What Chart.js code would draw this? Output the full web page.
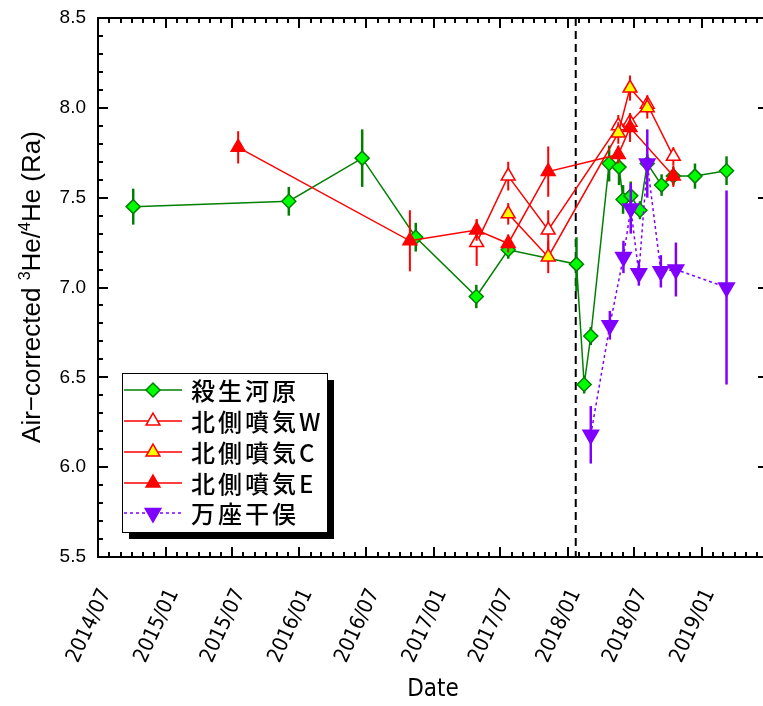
<!DOCTYPE html>
<html><head><meta charset="utf-8">
<script src="https://cdn.jsdelivr.net/npm/chart.js@4.4.1/dist/chart.umd.min.js"></script>
<style>html,body{margin:0;padding:0;background:#fff;overflow:hidden;}#wrap{width:763px;height:706px;overflow:hidden;}</style>
</head><body><div id="wrap"><canvas id="c" width="768" height="706"></canvas></div>
<script>
// ---- data ----
const xTickLabels = ['2014/07','2015/01','2015/07','2016/01','2016/07','2017/01','2017/07','2018/01','2018/07','2019/01'];
const xRange = ['2014-07-01','2019-07-01'];
const eruptionDate = '2018-01-23';
const seriesNames = ['殺生河原','北側噴気W','北側噴気C','北側噴気E','万座干俣'];

const sesshoDates = ['2014-10-05','2015-12-03','2016-06-20','2016-11-13','2017-04-27','2017-07-23','2018-01-25','2018-02-15','2018-03-05','2018-04-24','2018-05-21','2018-06-01','2018-06-22','2018-07-17','2018-08-06','2018-09-14','2018-10-16','2018-12-14','2019-03-10'];
const sesshoValues = [7.45,7.48,7.72,7.28,6.95,7.21,7.13,6.46,6.73,7.69,7.67,7.49,7.51,7.43,7.69,7.57,7.62,7.62,7.65];
const sesshoErrors = [0.10,0.08,0.16,0.08,0.065,0.05,0.15,0.05,0.05,0.10,0.10,0.08,0.08,0.05,0.05,0.06,0.05,0.07,0.08];

const wDates = ['2017-04-28','2017-07-23','2017-11-09','2018-05-19','2018-06-20','2018-08-06','2018-10-16'];
const wValues = [7.25,7.62,7.32,7.90,7.92,8.02,7.73];
const wErrors = [0.13,0.08,0.11,0.06,0.05,0.05,0.05];

const cDates = ['2017-07-23','2017-11-09','2018-05-19','2018-06-20','2018-08-06'];
const cValues = [7.41,7.17,7.86,8.11,8.00];
const cErrors = [0.06,0.09,0.06,0.07,0.06];

const eDates = ['2015-07-18','2016-10-28','2017-04-28','2017-07-23','2017-11-09','2018-05-19','2018-06-20','2018-10-16'];
const eValues = [7.78,7.26,7.32,7.245,7.645,7.74,7.89,7.62];
const eErrors = [0.09,0.17,0.06,0.05,0.14,0.05,0.08,0.06];

const manzaDates = ['2018-03-05','2018-04-26','2018-06-02','2018-06-22','2018-07-14','2018-08-06','2018-09-12','2018-10-23','2019-03-10'];
const manzaValues = [6.18,6.79,7.17,7.44,7.08,7.69,7.09,7.10,7.00];
const manzaErrors = [0.16,0.08,0.09,0.14,0.07,0.19,0.09,0.15,0.54];

// ---- helpers ----
const DAY = 86400000;
function dayNum(s){ const p = s.split('-').map(Number); return Date.UTC(p[0], p[1]-1, p[2]||1)/DAY; }
function pts(dates, vals){ return dates.map((d,i)=>({x:dayNum(d), y:vals[i]})); }
const tickValueMap = {};
xTickLabels.forEach(l => { tickValueMap[dayNum(l.replace('/','-')+'-01')] = l; });

const errorSets = [sesshoErrors, wErrors, cErrors, eErrors, manzaErrors];
const errColors = ['#008000','#ff0000','#ff0000','#ff0000','#8000ff'];
const errWidths = [2.5,2,2,2,2.5];

const styles = [
  {pointStyle:'rectRot', radius:7, bg:'#00ff00', bc:'#008000', line:'#008000', dash:[], rot:0},
  {pointStyle:'triangle', radius:8, bg:'#ffffff', bc:'#ff0000', line:'#ff0000', dash:[], rot:0},
  {pointStyle:'triangle', radius:8, bg:'#ffff00', bc:'#ff0000', line:'#ff0000', dash:[], rot:0},
  {pointStyle:'triangle', radius:8, bg:'#ff0000', bc:'#ff0000', line:'#ff0000', dash:[], rot:0},
  {pointStyle:'triangle', radius:9, bg:'#8000ff', bc:'#8000ff', line:'#8000ff', dash:[3,3], rot:180}
];
const seriesData = [pts(sesshoDates,sesshoValues), pts(wDates,wValues), pts(cDates,cValues), pts(eDates,eValues), pts(manzaDates,manzaValues)];
const drawOrder = [4,3,2,1,0];

const datasets = seriesData.map((d,i)=>({
  label: seriesNames[i], data: d, showLine: true,
  borderColor: styles[i].line, borderWidth: 1.5, borderDash: styles[i].dash,
  pointStyle: styles[i].pointStyle, pointRadius: styles[i].radius, pointRotation: styles[i].rot,
  pointBackgroundColor: styles[i].bg, pointBorderColor: styles[i].bc, pointBorderWidth: 1.5,
  pointHoverRadius: styles[i].radius, order: drawOrder[i], clip: false
}));

const TICK_FONT = "'Liberation Sans', Arial, sans-serif";
const NARROW_FONT = "'Liberation Sans Narrow', 'DejaVu Sans Condensed', 'Liberation Sans', sans-serif";

const customPlugin = {
  id: 'custom',
  beforeDatasetsDraw(chart){
    const ctx = chart.ctx, x = chart.scales.x, a = chart.chartArea;
    const px = x.getPixelForValue(dayNum(eruptionDate));
    ctx.save(); ctx.strokeStyle = '#000'; ctx.lineWidth = 2; ctx.setLineDash([8,5]);
    ctx.beginPath(); ctx.moveTo(px, a.top); ctx.lineTo(px, a.bottom); ctx.stroke(); ctx.restore();
  },
  beforeDatasetDraw(chart, args){
    const i = args.index, ctx = chart.ctx, xs = chart.scales.x, ys = chart.scales.y;
    const errs = errorSets[i]; const d = seriesData[i];
    ctx.save(); ctx.strokeStyle = errColors[i]; ctx.lineWidth = errWidths[i]; ctx.setLineDash([]);
    d.forEach((p,k)=>{
      const px = xs.getPixelForValue(p.x);
      ctx.beginPath(); ctx.moveTo(px, ys.getPixelForValue(p.y+errs[k])); ctx.lineTo(px, ys.getPixelForValue(p.y-errs[k])); ctx.stroke();
    });
    ctx.restore();
  },
  afterDraw(chart){
    const ctx = chart.ctx, a = chart.chartArea, xs = chart.scales.x, ys = chart.scales.y;
    ctx.save();
    ctx.strokeStyle = '#000'; ctx.lineWidth = 2; ctx.setLineDash([]);
    ctx.beginPath(); ctx.moveTo(a.left, a.top); ctx.lineTo(a.right, a.top); ctx.lineTo(a.right, a.bottom); ctx.stroke();
    for (let k = 55; k <= 85; k++){
      const py = Math.round(ys.getPixelForValue(k/10));
      const L = (k%5===0) ? 10 : 5;
      ctx.beginPath(); ctx.moveTo(a.left, py); ctx.lineTo(a.left+L, py); ctx.moveTo(a.right, py); ctx.lineTo(a.right-L, py); ctx.stroke();
    }
    for (let y = 2014; y <= 2019; y++){
      for (let m = 1; m <= 12; m++){
        if ((y===2014 && m<7) || (y===2019 && m>7)) continue;
        const px = Math.round(xs.getPixelForValue(Date.UTC(y,m-1,1)/DAY));
        const L = (m===1||m===7) ? 10 : 5;
        ctx.beginPath(); ctx.moveTo(px, a.bottom); ctx.lineTo(px, a.bottom-L); ctx.moveTo(px, a.top); ctx.lineTo(px, a.top+L); ctx.stroke();
      }
    }
    // y title with superscripts
    ctx.save();
    ctx.translate(31, 287); ctx.rotate(-Math.PI/2);
    const parts = [['Air\u2212corrected ',0],['3',1],['He/',0],['4',1],['He (Ra)',0]];
    const big = "26px " + TICK_FONT, small = "16px " + TICK_FONT;
    let tot = 0;
    parts.forEach(p=>{ ctx.font = p[1]?small:big; tot += ctx.measureText(p[0]).width; });
    let cx = -tot/2; ctx.fillStyle = '#000'; ctx.textBaseline = 'alphabetic';
    parts.forEach(p=>{ ctx.font = p[1]?small:big; ctx.fillText(p[0], cx, p[1]? -1 : 9); cx += ctx.measureText(p[0]).width; });
    ctx.restore();
    // legend
    const bx = 122, by = 373, bw = 205, bh = 159;
    ctx.fillStyle = '#000'; ctx.fillRect(bx+7, by+7, bw, bh);
    ctx.fillStyle = '#fff'; ctx.fillRect(bx, by, bw, bh);
    ctx.lineWidth = 1; ctx.strokeStyle = '#000'; ctx.strokeRect(bx+0.5, by+0.5, bw, bh);
    const rows = [390, 421, 452, 483, 513];
    seriesNames.forEach((name, i)=>{
      const ry = rows[i], st = styles[i];
      ctx.save();
      ctx.strokeStyle = st.line; ctx.lineWidth = 1.5; ctx.setLineDash(st.dash);
      ctx.beginPath(); ctx.moveTo(124, ry); ctx.lineTo(182, ry); ctx.stroke();
      ctx.setLineDash([]);
      ctx.fillStyle = st.bg; ctx.strokeStyle = st.bc; ctx.lineWidth = 1.5;
      Chart.helpers.drawPoint(ctx, {pointStyle: st.pointStyle, radius: st.radius, rotation: st.rot, borderWidth: 1.5}, 153, ry);
      ctx.restore();
      ctx.fillStyle = '#000'; ctx.font = "500 24px 'Noto Sans CJK JP', sans-serif"; ctx.textBaseline = 'middle';
      let tx = 191;
      for (const ch of name){
        ctx.fillText(ch, tx, ry+1);
        tx += (ch.charCodeAt(0) > 255) ? 27 : ctx.measureText(ch).width + 1;
      }
    });
    ctx.restore();
  }
};

new Chart(document.getElementById('c'), {
  type: 'scatter',
  data: { datasets },
  options: {
    responsive: false, devicePixelRatio: 1, animation: false,
    layout: { autoPadding: false, padding: { left: 0, top: 18, right: 0, bottom: 0 } },
    plugins: { legend: { display: false }, tooltip: { enabled: false } },
    scales: {
      x: {
        type: 'linear', min: dayNum(xRange[0]), max: dayNum(xRange[1]),
        afterBuildTicks: s => { s.ticks = Object.keys(tickValueMap).map(v => ({value: Number(v)})); },
        afterFit: s => { s.height = 149; s.paddingRight = 0; s.paddingLeft = 0; },
        ticks: { autoSkip: false, maxRotation: 65, minRotation: 65, padding: 20, labelOffset: 8, color: '#000',
                 font: { family: NARROW_FONT, size: 21 }, callback: v => tickValueMap[v] || '' },
        grid: { display: false },
        border: { display: true, color: '#000', width: 2 },
        title: { display: true, text: 'Date', color: '#000', font: { family: NARROW_FONT, size: 24 }, padding: { top: 0, bottom: 2 } }
      },
      y: {
        type: 'linear', min: 5.5, max: 8.5,
        afterFit: s => { s.width = 98; },
        ticks: { stepSize: 0.5, padding: 4, color: '#000', font: { family: TICK_FONT, size: 19 }, callback: v => v.toFixed(1) },
        grid: { display: false },
        border: { display: true, color: '#000', width: 2 }
      }
    }
  },
  plugins: [customPlugin]
});
</script>
</body></html>
